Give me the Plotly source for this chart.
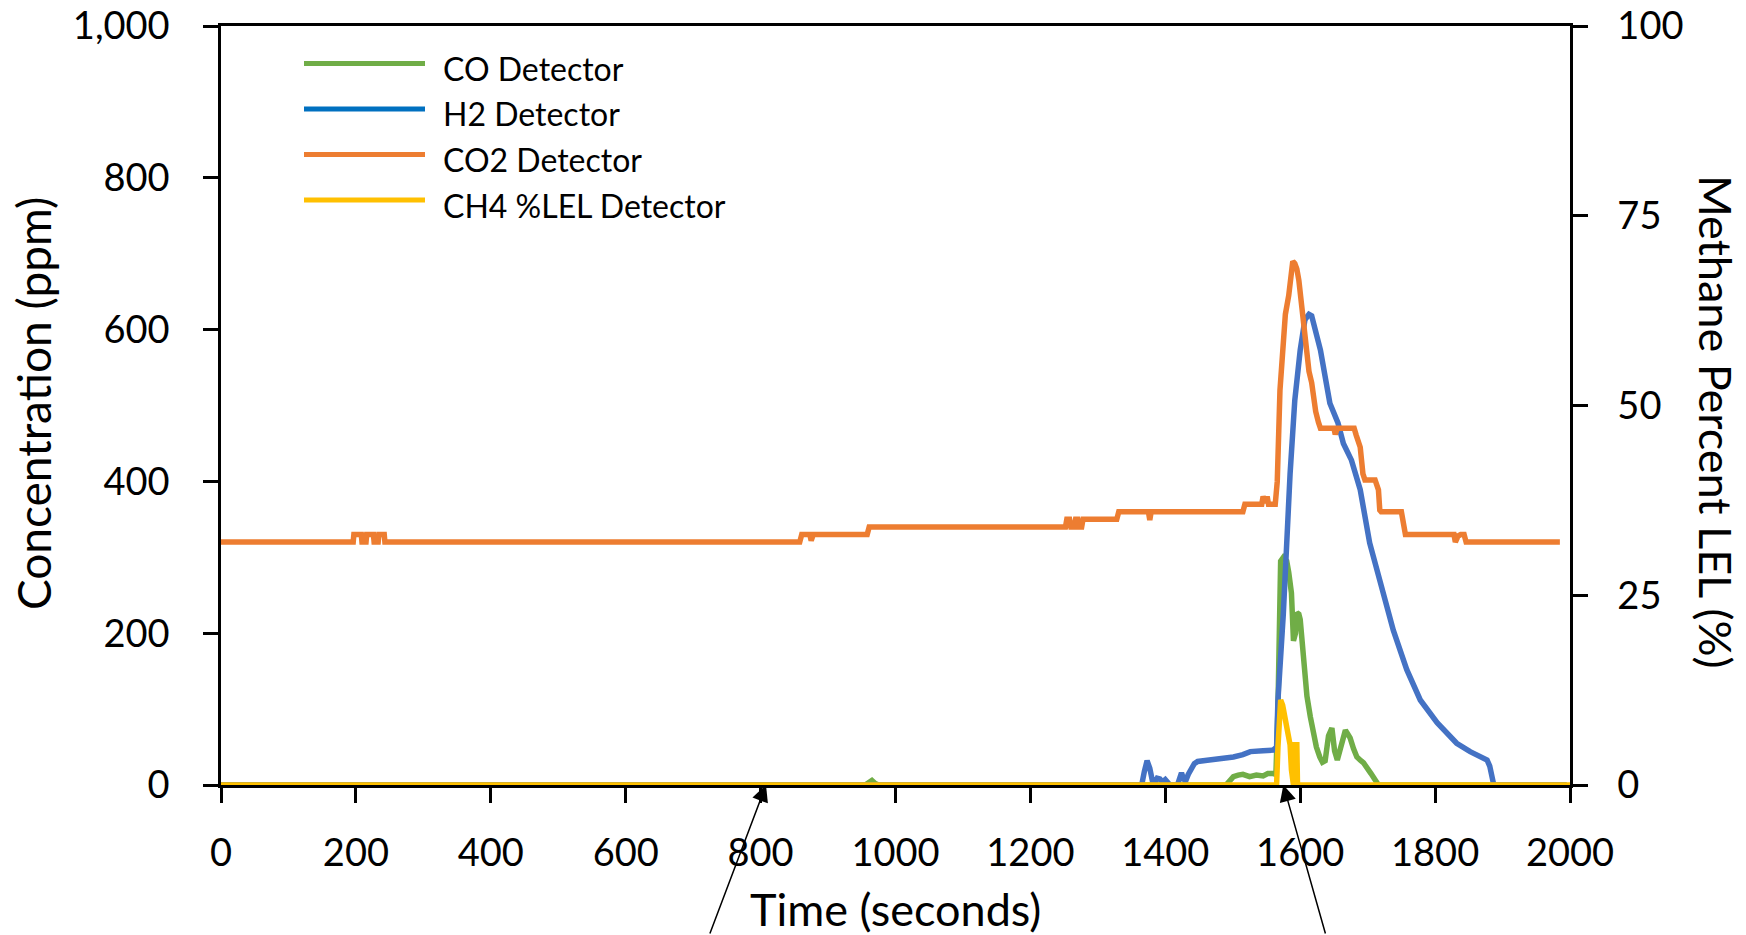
import plotly.graph_objects as go

# ---------------- data ----------------
co_time = [0, 955, 960, 965, 970, 975, 1490, 1496, 1501, 1508, 1515, 1525, 1535, 1545, 1552, 1560, 1564,
           1567, 1569, 1571, 1575, 1580, 1583, 1587, 1590, 1593, 1595, 1598, 1600, 1605, 1610, 1615, 1619,
           1624, 1629, 1633, 1637, 1642, 1647, 1651, 1655, 1660, 1665, 1667, 1670, 1674, 1679, 1684, 1690,
           1694, 1705, 1716, 1995]
co_ppm = [0, 0, 3, 6, 2, 0, 0, 5, 11, 13, 14, 11, 13, 12, 15, 15, 14,
          100, 220, 295, 300, 295, 280, 253, 190, 200, 227, 225, 218, 160, 117, 90, 72,
          50, 37, 30, 32, 65, 75, 45, 33, 50, 72, 72, 68, 62, 48, 37, 32,
          29, 15, 0, 0]

h2_time = [0, 1365, 1369, 1373, 1377, 1381, 1384, 1388, 1392, 1396, 1400, 1404, 1407, 1418, 1421, 1424,
           1427, 1430, 1434, 1438, 1443, 1448, 1460, 1471, 1486, 1501, 1515, 1526, 1545, 1560, 1565, 1567,
           1575, 1580, 1585, 1592, 1600, 1607, 1613, 1617, 1622, 1630, 1637, 1644, 1656, 1664, 1676, 1689,
           1703, 1718, 1738, 1758, 1778, 1803, 1820, 1832, 1852, 1866, 1877, 1881, 1886, 1887, 1995]
h2_ppm = [0, 0, 18, 32, 22, 5, 2, 9, 8, 4, 7, 2, 0, 0, 10, 16,
          8, 5, 14, 20, 28, 31, 32, 34, 35, 37, 40, 44, 45, 46, 50, 112,
          226, 330, 410, 507, 573, 613, 620, 618, 603, 573, 538, 503, 477, 450, 428, 389,
          319, 270, 204, 152, 112, 82, 66, 55, 44, 38, 33, 25, 2, 0, 0]

co2_time = [0, 196, 197, 208, 209, 215, 216, 226, 227, 233, 234, 242, 243,
            858, 861, 873, 875, 878, 958, 961, 1252, 1254, 1258, 1260, 1265, 1267, 1270, 1272, 1276, 1278,
            1328, 1331, 1375, 1377, 1379, 1515, 1518, 1543, 1545, 1549, 1551, 1553, 1563,
            1566, 1570, 1573, 1578, 1583, 1586, 1589, 1592, 1595, 1598, 1602, 1605, 1609, 1613, 1617,
            1620, 1623, 1627, 1630, 1650, 1652, 1655, 1680, 1683, 1689, 1693, 1696, 1711, 1714, 1716,
            1718, 1720, 1750, 1753, 1756, 1828, 1830, 1834, 1838, 1843, 1846, 1985]
co2_ppm = [320, 320, 330, 330, 320, 320, 330, 330, 320, 320, 330, 330, 320,
           320, 330, 330, 322, 330, 330, 340, 340, 350, 350, 340, 340, 350, 350, 340, 340, 350,
           350, 360, 360, 349, 360, 360, 370, 370, 380, 372, 380, 370, 370,
           400, 520, 570, 620, 645, 675, 690, 687, 680, 665, 630, 600, 565, 545, 530,
           505, 492, 478, 470, 470, 462, 470, 470, 461, 445, 410, 402, 402, 389, 389,
           362, 360, 360, 340, 330, 330, 320, 328, 330, 330, 320, 320]

ch4_time = [0, 1565, 1567, 1569, 1571, 1574, 1577, 1580, 1583, 1585, 1587, 1588, 1590, 1591, 1594, 1595,
            1596, 2000]
ch4_lel = [0, 0, 5, 10, 11.2, 10.5, 9.2, 7.9, 6.2, 5.3, 2, 0, 0, 5.3, 5.3, 5.3,
           0, 0]

series_names = ["CO Detector", "H2 Detector", "CO2 Detector", "CH4 %LEL Detector"]
line_colors = ["#70AD47", "#4472C4", "#ED7D31", "#FFC000"]
legend_colors = ["#70AD47", "#0070C0", "#ED7D31", "#FFC000"]

x_ticks = [0, 200, 400, 600, 800, 1000, 1200, 1400, 1600, 1800, 2000]
y_ticks = [0, 200, 400, 600, 800, 1000]
y_ticklabels = ["0", "200", "400", "600", "800", "1,000"]
y2_ticks = [0, 25, 50, 75, 100]

arrow_tips = [808, 1575]
arrow_tails = [724, 1638]

# ---------------- layout constants (pixels) ----------------
W, H = 1746, 935
L, R, T, B = 221, 1570, 26, 785
FONT = "Lato, 'Open Sans', sans-serif"
PX_PER_SEC = (R - L) / 2000.0

fig = go.Figure()
traces = [(co_time, co_ppm, "y"), (h2_time, h2_ppm, "y"), (co2_time, co2_ppm, "y"), (ch4_time, ch4_lel, "y2")]
for (tx, ty, ax), name, col in zip(traces, series_names, line_colors):
    fig.add_trace(go.Scatter(x=tx, y=ty, mode="lines", name=name, yaxis=ax,
                             line=dict(color=col, width=5.5), showlegend=False))

axis_common = dict(showgrid=False, zeroline=False, showline=True, linecolor="black", linewidth=2.5,
                   ticks="outside", ticklen=15, tickwidth=2.5, tickcolor="black",
                   tickfont=dict(family=FONT, size=38, color="black"))

fig.update_layout(
    width=W, height=H,
    margin=dict(l=L, r=W - R, t=T, b=H - B, autoexpand=False),
    paper_bgcolor="white", plot_bgcolor="white",
    showlegend=False,
    xaxis=dict(range=[0, 2000], tickvals=x_ticks, mirror=True, layer="below traces",
               ticklabelstandoff=18, **axis_common),
    yaxis=dict(range=[0, 1000], tickvals=y_ticks, ticktext=y_ticklabels, layer="below traces",
               ticklabelstandoff=26, **axis_common),
    yaxis2=dict(range=[0, 100], tickvals=y2_ticks, overlaying="y", side="right", layer="below traces",
                ticklabelstandoff=22, **axis_common),
)

def px_x(p):
    return (p - L) / (R - L)

def px_y(p):
    return (B - p) / (B - T)

annotations = []
# axis titles
annotations.append(dict(text="Time (seconds)", xref="paper", yref="paper", x=px_x(895), y=px_y(909),
                        showarrow=False, xanchor="center", yanchor="middle",
                        font=dict(family=FONT, size=45, color="black")))
annotations.append(dict(text="Concentration (ppm)", xref="paper", yref="paper", x=px_x(33), y=px_y(404),
                        showarrow=False, xanchor="center", yanchor="middle", textangle=-90,
                        font=dict(family=FONT, size=46, color="black")))
annotations.append(dict(text="Methane Percent LEL (%)", xref="paper", yref="paper", x=px_x(1716), y=px_y(422),
                        showarrow=False, xanchor="center", yanchor="middle", textangle=90,
                        font=dict(family=FONT, size=45, color="black")))

# legend (drawn manually to mimic long line samples)
legend_line_y = [63.5, 109, 154.5, 200]
shapes = []
for yy, name, col in zip(legend_line_y, series_names, legend_colors):
    shapes.append(dict(type="line", xref="paper", yref="paper", x0=px_x(304), x1=px_x(425),
                       y0=px_y(yy), y1=px_y(yy), line=dict(color=col, width=5)))
    annotations.append(dict(text=name, xref="paper", yref="paper", x=px_x(441), y=px_y(yy + 5),
                            showarrow=False, xanchor="left", yanchor="middle",
                            font=dict(family=FONT, size=32, color="black")))

# arrows pointing at the time axis
for tip, tail in zip(arrow_tips, arrow_tails):
    annotations.append(dict(text="", x=tip, y=0, xref="x", yref="y", showarrow=True,
                            ax=(tail - tip) * PX_PER_SEC, ay=158, axref="pixel", ayref="pixel",
                            arrowhead=2, arrowsize=2.2, arrowwidth=1.5, arrowcolor="black",
                            standoff=0))

fig.update_layout(annotations=annotations, shapes=shapes)
fig.write_html("out.html")
